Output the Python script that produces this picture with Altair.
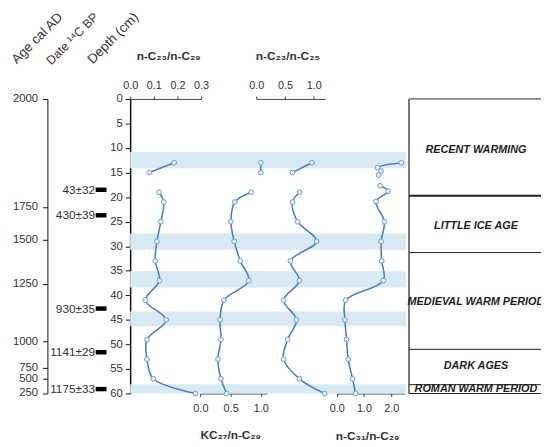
import altair as alt
import pandas as pd

# ---------------- data ----------------
depth_ticks = list(range(0, 61, 5))

age_labels = ["2000", "1750", "1500", "1250", "1000", "750", "500", "250"]
age_depths = [0, 22.0, 28.7, 37.7, 49.4, 54.8, 57.0, 59.9]

date_labels = ["43±32", "430±39", "930±35", "1141±29", "1175±33"]
date_depths = [18.5, 23.7, 42.7, 51.6, 59.1]

band_top = [10.8, 27.4, 35.1, 43.3, 58.1]
band_bottom = [14.1, 30.7, 38.4, 46.3, 60.0]

sample_depth = [13, 15, 19, 21, 25, 29, 33, 37, 41, 45, 49, 53, 57, 60]
sample_segment = ["a", "a", "b", "b", "b", "b", "b", "b", "b", "b", "b", "b", "b", "b"]
c23_c29 = [0.186, 0.081, 0.122, 0.142, 0.130, 0.113, 0.106, 0.124, 0.064, 0.152, 0.071, 0.071, 0.098, 0.276]
kc27_c29 = [1.00, 1.00, 0.84, 0.57, 0.505, 0.56, 0.66, 0.80, 0.39, 0.325, 0.34, 0.29, 0.34, 0.435]
c23_c25 = [0.97, 0.63, 0.755, 0.63, 0.72, 1.05, 0.595, 0.75, 0.475, 0.70, 0.545, 0.475, 0.75, 1.19]

c31_depth = [13, 14, 14.7, 15.5, 17.7, 18.8, 20.9, 25, 29, 33, 37, 41, 45, 49, 53, 57, 60]
c31_segment = ["a", "a", "a", "a", "b", "b", "b", "b", "b", "b", "b", "b", "b", "b", "b", "b", "b"]
c31_c29 = [2.37, 1.50, 1.63, 1.54, 1.59, 1.89, 1.44, 1.75, 1.63, 1.65, 1.71, 0.33, 0.30, 0.36, 0.42, 0.58, 0.69]

period_labels = ["RECENT WARMING", "LITTLE ICE AGE", "MEDIEVAL WARM PERIOD", "DARK AGES", "ROMAN WARM PERIOD"]
period_label_depths = [10.4, 25.9, 41.3, 54.4, 59.1]
period_bounds = [0, 19.7, 31.3, 51.0, 58.2, 60]

header_texts = ["Age cal AD", "Date ¹⁴C BP", "Depth (cm)"]
title_texts = ["n-C₂₃/n-C₂₉", "n-C₂₃/n-C₂₅", "KC₂₇/n-C₂₉", "n-C₃₁/n-C₂₉"]

# ---------------- style ----------------
FONT = "Liberation Sans"
TXT = "#333333"
LINE = "#4f7fc0"
W, H = 417, 299

yscale = alt.Scale(domain=[0, 60], reverse=True, nice=False, zero=False)


def ydepth(field, axis=None):
    return alt.Y(field, type="quantitative", scale=yscale, axis=axis)


def note(text, x, y, **kw):
    return alt.Chart(pd.DataFrame({"t": [text]})).mark_text(font=FONT, color=TXT, **kw).encode(
        x=alt.value(x), y=alt.value(y), text="t:N")


def panel_axis(orient, values):
    return alt.Axis(orient=orient, values=values, format=".1f", title=None, tickSize=3,
                    labelPadding=6, labelFontSize=11, labelFont=FONT, labelColor=TXT,
                    domainColor="#444444", tickColor="#444444", labelFlush=False,
                    labelOverlap=False, grid=False)


def profile(depths, segs, vals, domain, rng, axis):
    df = pd.DataFrame({"depth": depths, "segment": segs, "value": vals})
    return alt.Chart(df).mark_line(
        color=LINE, strokeWidth=1.6, interpolate="catmull-rom",
        point=alt.OverlayMarkDef(filled=True, fill="#e8f0fa", stroke="#6f9bd6",
                                 strokeWidth=1, size=24, opacity=1)
    ).encode(
        x=alt.X("value:Q", scale=alt.Scale(domain=domain, range=rng, nice=False, zero=False), axis=axis),
        y=ydepth("depth"),
        detail="segment:N",
        order="depth:Q",
    )


# ---------------- layers ----------------
depth_axis = alt.Axis(orient="left", values=depth_ticks, title=None, tickSize=5, labelPadding=3,
                      labelFontSize=11.5, labelFont=FONT, labelColor=TXT, domainColor="#111111",
                      domainWidth=1.5, tickColor="#111111", labelFlush=False, labelOverlap=False, grid=False)

bands = alt.Chart(pd.DataFrame({"top": band_top, "bottom": band_bottom})).mark_rect(
    color="#d9eaf5").encode(
    x=alt.value(0), x2=alt.value(280),
    y=ydepth("top", depth_axis), y2="bottom:Q")

age_expr = "".join(f"datum.value == {d} ? '{a}' : " for d, a in zip(age_depths, age_labels)) + "''"
age_axis = alt.Axis(orient="left", offset=84, values=age_depths, labelExpr=age_expr, title=None,
                    tickSize=5, labelPadding=5, labelFontSize=11.5, labelFont=FONT, labelColor=TXT,
                    domainColor="#111111", tickColor="#111111", labelFlush=False,
                    labelOverlap=False, grid=False)
age_layer = alt.Chart(pd.DataFrame({"depth": age_depths})).mark_point(opacity=0).encode(
    x=alt.value(-84), y=ydepth("depth", age_axis))

date_df = pd.DataFrame({"depth": date_depths, "label": date_labels})
dates = alt.Chart(date_df).mark_text(font=FONT, fontSize=12, align="right", baseline="middle",
                                     color=TXT).encode(
    x=alt.value(-35.5), y=ydepth("depth"), text="label:N")
markers = alt.Chart(date_df).mark_tick(orient="horizontal", size=11, thickness=4.5,
                                       color="black", opacity=1).encode(
    x=alt.value(-29.5), y=ydepth("depth"))

p1 = profile(sample_depth, sample_segment, c23_c29, [0, 0.3], [0, 72],
             panel_axis("top", [0, 0.1, 0.2, 0.3]))
p2 = profile(sample_depth, sample_segment, kc27_c29, [0, 1.1], [71.3, 138.8],
             panel_axis("bottom", [0, 0.5, 1.0]))
p3 = profile(sample_depth, sample_segment, c23_c25, [0, 1.2], [128, 198],
             panel_axis("top", [0, 0.5, 1.0]))
p4 = profile(c31_depth, c31_segment, c31_c29, [0, 2.5], [209.7, 278.8],
             panel_axis("bottom", [0, 1, 2]))

bounds_df = pd.DataFrame({"depth": period_bounds})
hlines = alt.Chart(bounds_df).mark_rule(color="#222222").encode(
    x=alt.value(283), x2=alt.value(W + 10), y=ydepth("depth"),
    strokeWidth=alt.condition("datum.depth == 19.7", alt.value(2), alt.value(1)))
vline = alt.Chart(pd.DataFrame({"a": [period_bounds[0]], "b": [period_bounds[-1]]})).mark_rule(
    color="#222222", strokeWidth=1.2).encode(x=alt.value(283), y=ydepth("a"), y2="b:Q")

periods = alt.Chart(pd.DataFrame({"label": period_labels, "depth": period_label_depths})).mark_text(
    font=FONT, fontSize=11, fontWeight="bold", fontStyle="italic", color="#1e1e1e",
    align="center", baseline="middle").encode(
    x=alt.value(351), y=ydepth("depth"), text="label:N")

headers = [
    note(header_texts[0], -115, -35, angle=315, align="left", baseline="alphabetic", fontSize=13.5),
    note(header_texts[1], -80, -34, angle=315, align="left", baseline="alphabetic", fontSize=12.5),
    note(header_texts[2], -38, -35, angle=315, align="left", baseline="alphabetic", fontSize=13.5),
]
titles = [
    note(title_texts[0], 39, -44, fontSize=12, fontWeight="bold", align="center", baseline="middle"),
    note(title_texts[1], 160, -44, fontSize=12, fontWeight="bold", align="center", baseline="middle"),
    note(title_texts[2], 102, 341, fontSize=12, fontWeight="bold", align="center", baseline="middle"),
    note(title_texts[3], 241, 342, fontSize=12, fontWeight="bold", align="center", baseline="middle"),
]

chart = alt.layer(
    bands, age_layer, dates, markers, hlines, vline, periods, p1, p2, p3, p4, *headers, *titles
).resolve_scale(x="independent", y="independent").resolve_axis(
    x="independent", y="independent"
).properties(
    width=W, height=H,
    autosize=alt.AutoSizeParams(type="none"),
    padding={"left": 124, "top": 89, "right": 0, "bottom": 51},
).configure_view(stroke=None)

chart.save("out.html", embed_options={"renderer": "svg", "actions": False})
